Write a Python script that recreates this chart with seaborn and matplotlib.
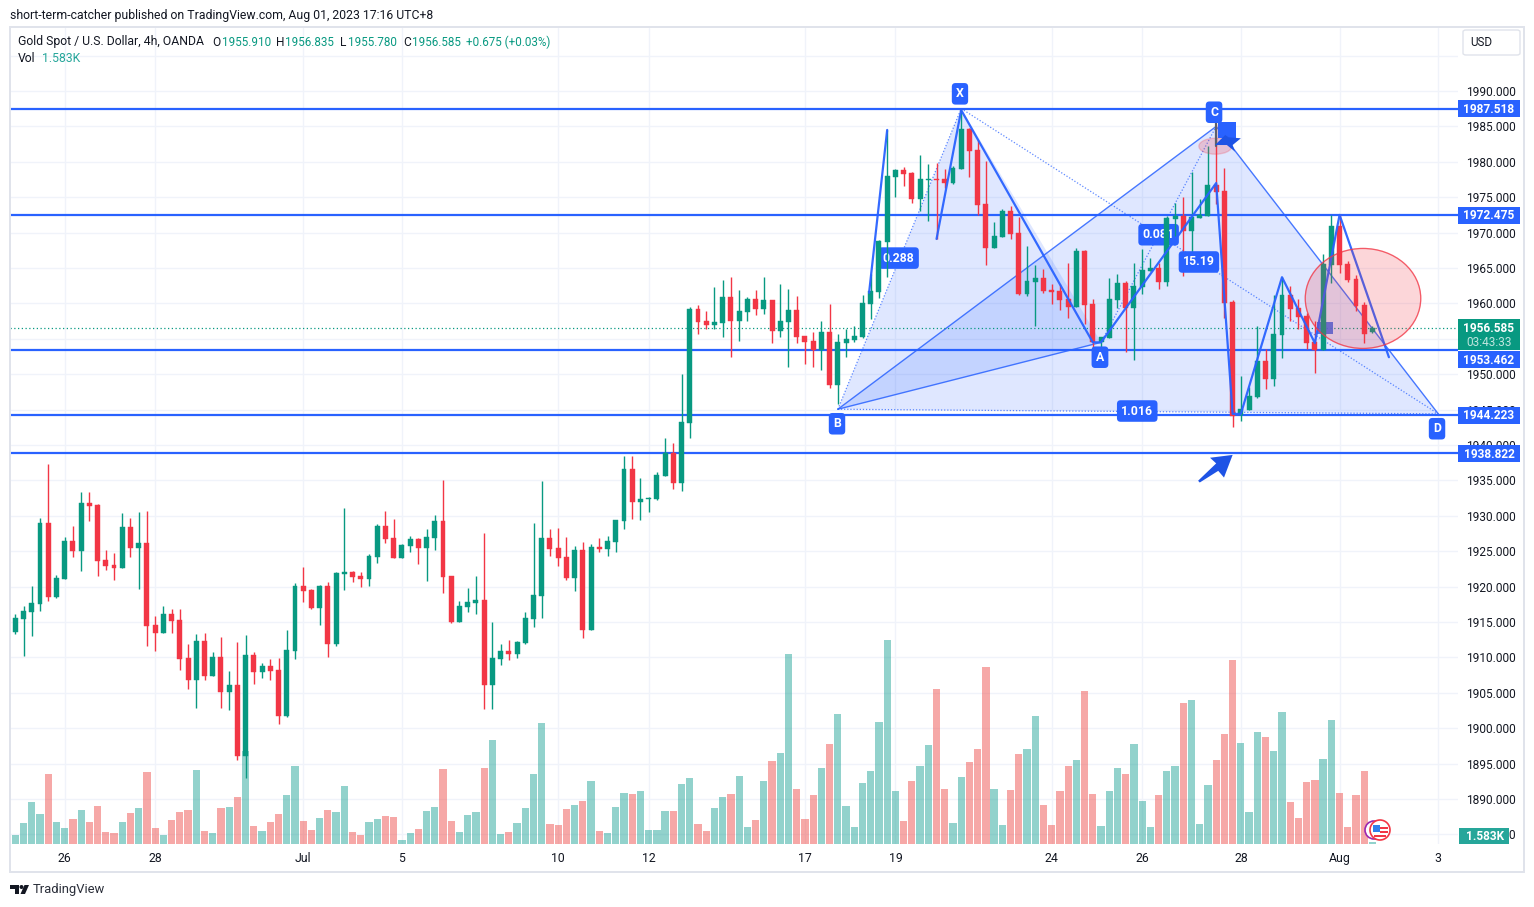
import numpy as np
import pandas as pd
import matplotlib
matplotlib.use("Agg")
import matplotlib.pyplot as plt
import seaborn as sns
from matplotlib.patches import Ellipse, Polygon, Rectangle, FancyBboxPatch

# ---- candles, 4h, oldest first ---------------------------------------------
opens = [
    1913.59, 1915.43, 1916.42, 1917.55, 1928.99, 1918.53, 1921.08, 1926.44, 1925.03, 1931.81,
    1931.53, 1923.76, 1923.05, 1922.63, 1928.42, 1925.46, 1926.16, 1914.58, 1913.45, 1916.13,
    1915.29, 1909.92, 1906.81, 1912.32, 1907.38, 1910.06, 1905.12, 1906.11, 1896.08, 1910.34,
    1907.94, 1908.79, 1908.22, 1901.73, 1910.91, 1920.09, 1919.52, 1916.98, 1920.09, 1911.90,
    1921.78, 1922.07, 1921.50, 1921.08, 1924.18, 1928.56, 1926.87, 1924.04, 1925.74, 1926.73,
    1925.46, 1926.87, 1929.27, 1921.50, 1915.00, 1917.12, 1917.69, 1918.11, 1906.11, 1909.78,
    1910.91, 1910.48, 1912.04, 1915.43, 1918.68, 1926.87, 1925.46, 1924.18, 1921.22, 1925.17,
    1913.87, 1925.60, 1925.31, 1926.30, 1929.27, 1936.61, 1931.95, 1932.38, 1932.38, 1935.63,
    1938.87, 1934.64, 1943.10, 1959.20, 1957.51, 1956.95, 1957.23, 1960.90, 1957.51, 1958.78,
    1960.62, 1959.20, 1960.48, 1956.10, 1957.37, 1959.06, 1955.39, 1954.68, 1953.41, 1955.96,
    1948.47, 1954.40, 1954.83, 1955.25, 1959.91, 1961.61, 1968.67, 1977.85, 1978.84, 1978.41,
    1974.74, 1977.43, 1977.57, 1977.57, 1977.00, 1978.98, 1984.63, 1981.66, 1974.04, 1967.82,
    1969.38, 1973.05, 1969.94, 1961.32, 1963.02, 1963.58, 1961.89, 1961.75, 1960.62, 1959.49,
    1967.40, 1959.91, 1954.54, 1955.11, 1960.48, 1962.88, 1959.35, 1962.31, 1964.57, 1965.00,
    1963.02, 1971.92, 1972.34, 1970.22, 1972.06, 1972.34, 1976.72, 1975.87, 1960.19, 1944.24,
    1944.94, 1946.78, 1951.87, 1949.32, 1955.54, 1961.19, 1959.35, 1958.22, 1954.55, 1953.42,
    1965.42, 1970.93, 1965.57, 1963.45, 1959.77, 1955.91,
]
closes = [
    1915.57, 1916.56, 1917.69, 1928.99, 1918.53, 1921.22, 1926.44, 1925.03, 1931.81, 1931.39,
    1923.62, 1922.91, 1922.63, 1928.42, 1925.46, 1926.16, 1914.44, 1913.45, 1916.13, 1915.14,
    1909.78, 1906.81, 1912.32, 1907.38, 1910.06, 1905.12, 1906.11, 1896.08, 1910.34, 1907.94,
    1908.79, 1908.08, 1901.73, 1911.05, 1920.09, 1919.38, 1916.98, 1920.09, 1911.90, 1921.92,
    1922.07, 1921.36, 1921.08, 1924.33, 1928.56, 1926.73, 1924.04, 1925.88, 1926.73, 1925.46,
    1927.01, 1929.27, 1921.36, 1915.00, 1917.26, 1917.83, 1918.11, 1906.11, 1909.92, 1910.91,
    1910.48, 1912.18, 1915.57, 1918.82, 1926.87, 1925.31, 1924.04, 1921.22, 1925.17, 1913.87,
    1925.60, 1925.31, 1926.44, 1929.41, 1936.61, 1931.95, 1932.38, 1932.52, 1935.77, 1938.87,
    1934.64, 1943.25, 1959.20, 1957.37, 1956.95, 1957.37, 1960.90, 1957.51, 1958.92, 1960.62,
    1959.20, 1960.48, 1956.10, 1957.51, 1959.06, 1955.25, 1954.54, 1953.41, 1955.96, 1948.47,
    1954.54, 1954.97, 1955.39, 1960.05, 1961.75, 1968.81, 1977.99, 1978.84, 1978.27, 1974.74,
    1977.57, 1977.57, 1977.43, 1977.00, 1979.12, 1984.63, 1981.52, 1973.89, 1967.82, 1969.52,
    1973.05, 1969.80, 1961.32, 1963.16, 1963.58, 1961.75, 1961.60, 1960.48, 1959.49, 1967.40,
    1959.77, 1954.54, 1955.25, 1960.62, 1962.88, 1959.35, 1962.46, 1964.71, 1965.00, 1963.02,
    1972.06, 1972.34, 1970.22, 1972.20, 1972.48, 1976.72, 1975.73, 1960.05, 1944.09, 1945.09,
    1946.92, 1951.87, 1949.32, 1955.68, 1961.19, 1959.21, 1958.08, 1954.41, 1953.42, 1965.57,
    1970.93, 1965.42, 1963.30, 1959.63, 1955.68, 1956.585,
]
highs = [
    1916.13, 1917.26, 1920.09, 1929.69, 1937.32, 1921.64, 1927.00, 1928.56, 1933.37, 1933.37,
    1931.67, 1925.17, 1924.75, 1930.40, 1929.69, 1930.54, 1930.68, 1915.85, 1917.26, 1916.84,
    1916.84, 1911.90, 1913.31, 1913.45, 1910.77, 1912.88, 1908.08, 1912.18, 1913.17, 1910.77,
    1909.21, 1909.78, 1909.92, 1913.87, 1920.51, 1922.77, 1919.67, 1920.23, 1920.65, 1922.07,
    1931.10, 1922.20, 1922.07, 1924.61, 1928.85, 1930.68, 1929.55, 1926.00, 1927.15, 1926.87,
    1928.14, 1930.12, 1935.06, 1921.50, 1917.97, 1919.81, 1921.50, 1927.57, 1915.00, 1911.90,
    1912.46, 1912.32, 1916.42, 1928.99, 1934.92, 1928.14, 1928.28, 1927.01, 1925.74, 1926.30,
    1926.02, 1926.87, 1927.15, 1929.41, 1938.45, 1938.45, 1935.34, 1932.66, 1936.19, 1941.00,
    1940.29, 1950.03, 1959.50, 1959.77, 1958.92, 1962.31, 1963.30, 1963.72, 1961.89, 1960.90,
    1961.89, 1963.72, 1960.48, 1962.74, 1962.03, 1961.04, 1955.39, 1955.96, 1957.51, 1959.91,
    1955.67, 1956.38, 1956.80, 1961.18, 1964.15, 1969.00, 1984.49, 1978.98, 1979.26, 1978.56,
    1980.96, 1979.69, 1979.83, 1978.98, 1979.40, 1987.31, 1984.77, 1983.07, 1980.11, 1971.49,
    1973.33, 1973.75, 1972.20, 1968.10, 1965.42, 1964.86, 1962.74, 1962.74, 1965.70, 1967.82,
    1967.54, 1960.62, 1955.25, 1963.58, 1964.15, 1963.16, 1965.70, 1967.70, 1966.41, 1965.70,
    1972.34, 1974.18, 1975.02, 1978.56, 1974.74, 1982.23, 1985.40, 1979.12, 1960.48, 1949.75,
    1948.20, 1956.81, 1953.56, 1961.19, 1963.73, 1962.46, 1960.62, 1958.64, 1957.51, 1966.98,
    1972.49, 1972.49, 1966.00, 1964.01, 1960.20, 1956.835,
]
lows = [
    1913.31, 1910.20, 1913.03, 1916.56, 1917.97, 1918.39, 1921.08, 1924.18, 1922.21, 1929.27,
    1921.50, 1922.35, 1920.94, 1922.63, 1924.18, 1919.67, 1911.61, 1910.91, 1913.45, 1913.45,
    1908.22, 1905.54, 1902.86, 1906.81, 1907.38, 1902.86, 1902.57, 1895.51, 1893.00, 1906.25,
    1907.09, 1906.81, 1900.60, 1901.59, 1909.78, 1917.83, 1916.84, 1914.58, 1910.06, 1911.61,
    1919.52, 1920.65, 1919.95, 1920.09, 1923.34, 1926.16, 1924.04, 1924.04, 1924.89, 1923.20,
    1920.79, 1925.17, 1919.10, 1914.86, 1915.00, 1916.42, 1916.13, 1902.72, 1902.72, 1908.93,
    1909.64, 1909.92, 1911.90, 1914.30, 1915.57, 1924.33, 1922.91, 1920.94, 1919.38, 1912.74,
    1913.87, 1924.89, 1924.33, 1924.89, 1928.14, 1929.55, 1929.41, 1930.54, 1932.24, 1935.63,
    1933.79, 1933.51, 1941.00, 1955.67, 1956.38, 1956.38, 1955.25, 1952.43, 1954.69, 1957.51,
    1958.36, 1958.50, 1954.40, 1955.25, 1951.01, 1954.40, 1951.44, 1951.01, 1950.59, 1948.05,
    1945.79, 1952.43, 1954.54, 1955.11, 1957.79, 1960.76, 1963.73, 1975.02, 1976.58, 1974.18,
    1973.05, 1971.63, 1969.09, 1976.30, 1976.86, 1978.98, 1977.85, 1972.48, 1965.42, 1967.82,
    1969.38, 1969.09, 1961.18, 1961.04, 1956.80, 1961.46, 1959.91, 1959.06, 1957.93, 1959.49,
    1957.09, 1953.41, 1953.41, 1955.11, 1959.35, 1953.13, 1952.00, 1961.32, 1964.57, 1962.03,
    1962.46, 1969.52, 1963.87, 1967.25, 1972.06, 1972.34, 1974.04, 1957.93, 1942.54, 1943.39,
    1944.94, 1946.64, 1947.91, 1948.33, 1952.29, 1957.51, 1956.38, 1953.56, 1950.17, 1953.42,
    1962.88, 1964.29, 1963.02, 1958.93, 1954.41, 1955.78,
]
# thousands
volumes = [
    9, 21, 42, 30, 70, 22, 16, 25, 34, 22,
    38, 12, 11, 22, 31, 36, 72, 16, 9, 24,
    32, 34, 74, 13, 11, 36, 37, 47, 93, 18,
    13, 22, 30, 49, 78, 23, 14, 26, 34, 32,
    58, 12, 9, 22, 25, 28, 27, 4, 11, 15,
    33, 37, 75, 23, 12, 29, 32, 76, 104, 10,
    12, 21, 36, 70, 121, 20, 19, 35, 39, 43,
    63, 13, 11, 37, 51, 50, 53, 14, 14, 33,
    33, 60, 66, 20, 13, 36, 47, 50, 68, 17,
    24, 63, 83, 91, 190, 55, 25, 49, 76, 100,
    130, 38, 17, 61, 73, 122, 204, 53, 23, 63,
    78, 99, 155, 55, 21, 67, 82, 95, 177, 55,
    19, 54, 90, 95, 128, 39, 19, 53, 78, 84,
    153, 50, 18, 53, 76, 70, 100, 43, 17, 49,
    73, 78, 141, 144, 20, 59, 84, 110, 184, 101,
    32, 112, 107, 93, 132, 42, 26, 62, 64, 85,
    124, 51, 17, 49, 73, 1.583,
]

date_ticks = [6, 17, 35, 47, 66, 77, 96, 107, 126, 137, 149, 161, 173]
date_labels = ["26", "28", "Jul", "5", "10", "12", "17", "19", "24", "26", "28", "Aug", "3"]
price_ticks = list(range(1885, 2000, 5))
level_prices = [1987.518, 1972.475, 1953.462, 1944.223, 1938.822]
last_price = 1956.585

# harmonic pattern points (bar, price)
pt_x = (115, 1987.52)
pt_a = (132, 1954.5)
pt_b = (100, 1945.05)
pt_c = (146, 1985.0)
pt_d = (173, 1944.4)
# hand drawn trend lines
zig_1 = [(103.8, 1961.5), (106, 1984.5)]
zig_2 = [(112, 1969.1), (115, 1987.3), (131, 1954.5), (132, 1954.5), (146, 1977.0), (148, 1944.4),
         (149, 1944.4), (154, 1963.7), (158, 1954.4), (161, 1972.5), (167, 1952.4)]
arrow_low = [(148.0, 1938.6), (145.25, 1938.2), (146.0, 1937.4), (143.8, 1934.95), (144.0, 1934.7),
             (146.25, 1936.35), (146.95, 1935.4)]
arrow_high = [(145.86, 1982.37), (147.1, 1983.79), (147.5, 1983.46), (149.0, 1983.32), (148.0, 1982.37),
              (148.3, 1981.43), (147.3, 1982.37)]

UP, DOWN = "#089981", "#f23645"
VOL_UP, VOL_DOWN = "#26a69a", "#ef5350"
BLUE = "#2962ff"
ARROW = "#1e53e5"
INK = "#131722"
GRID = "#f0f3fa"
BORDER = "#e0e3eb"

W, H = 1534, 907
PANE = (10, 28, 1458, 844)  # left, top, right, bottom in px
PX_PER_USD = 7.08
price_low = 1990 - (PANE[3] - 91) / PX_PER_USD
price_high = 1990 + (91 - PANE[1]) / PX_PER_USD


def fx(px):
    return px / W


def fy(py):
    return 1 - py / H


sns.set_theme(style="white")
plt.rcParams["font.family"] = ["Roboto", "DejaVu Sans"]

fig = plt.figure(figsize=(W / 100, H / 100), dpi=100, facecolor="white")
ax_vol = fig.add_axes([fx(PANE[0]), fy(PANE[3]), fx(PANE[2] - PANE[0]), (PANE[3] - PANE[1]) / H])

bars = np.arange(len(opens))
is_up = np.array(closes) >= np.array(opens)
vol_df = pd.DataFrame({"bar": bars, "volume": volumes, "side": np.where(is_up, "up", "down")})

sns.barplot(data=vol_df, x="bar", y="volume", hue="side", palette={"up": VOL_UP, "down": VOL_DOWN},
            native_scale=True, dodge=False, width=0.88, saturation=1, alpha=0.5, linewidth=0,
            errorbar=None, legend=False, ax=ax_vol)
ax_vol.set_xlim(-0.648, 175.4)
ax_vol.set_ylim(0, PANE[3] - PANE[1])
ax_vol.set(xlabel="", ylabel="")
ax_vol.set_xticks(date_ticks, date_labels)
# grid lives on the volume axes so it stays under the bars
ax_vol.set_yticks([(t - price_low) * PX_PER_USD for t in price_ticks], [""] * len(price_ticks))
ax_vol.tick_params(axis="both", length=0)
ax_vol.tick_params(axis="x", pad=5.5, labelsize=8.8, labelcolor=INK)
ax_vol.grid(axis="both", color=GRID, lw=1)
ax_vol.set_axisbelow(True)
sns.despine(ax=ax_vol, left=True, bottom=True)

ax = ax_vol.twinx()
ax.set_ylim(price_low, price_high)
ax.set_yticks(price_ticks)
ax.set_yticklabels(["" if t == 1995 else f"{t}.000" for t in price_ticks])
ax.tick_params(axis="y", length=0, pad=6, labelsize=8.6, labelcolor=INK)
ax.grid(False)
sns.despine(ax=ax, left=True, bottom=True, right=True, top=True)

# ---- pattern fills, drawn under the candles --------------------------------
ax.add_patch(Polygon([pt_x, pt_a, pt_b], closed=True, fc=BLUE, alpha=0.15, lw=0, zorder=1))
ax.add_patch(Polygon([pt_b, pt_c, pt_d], closed=True, fc=BLUE, alpha=0.15, lw=0, zorder=1))
for p, q in [(pt_a, pt_b), (pt_b, pt_c), (pt_c, pt_d)]:
    ax.plot(*zip(p, q), color=BLUE, lw=1.0, alpha=0.85, zorder=1.5)
for p, q in [(pt_b, pt_x), (pt_x, pt_d), (pt_a, pt_c), (pt_b, pt_d)]:
    ax.plot(*zip(p, q), color=BLUE, lw=0.9, ls=(0, (1, 1.5)), alpha=0.75, zorder=1.5)

ax.add_patch(Rectangle((158.3, 1955.7), 1.9, 1.7, fc="#3d6be8", ec="none", alpha=0.9, zorder=1.8))

for price in level_prices:
    ax.axhline(price, color=BLUE, lw=1.6, zorder=1.6)
ax.axhline(last_price, color=UP, lw=0.9, ls=(0, (1, 2)), zorder=1.6)


def tag_box(text, bar, price, zorder):
    ax.text(bar, price, text, color="white", fontsize=8.8, fontweight="bold", ha="center", va="center",
            zorder=zorder, bbox=dict(boxstyle="round,pad=0.35,rounding_size=0.3", fc=BLUE, ec="none"))


tag_box("0.288", 107.4, 1966.4, 2)
tag_box("0.081", 139.0, 1969.7, 2)

# ---- candles ---------------------------------------------------------------
candle_colors = np.where(is_up, UP, DOWN)
ax.vlines(bars, lows, highs, colors=candle_colors, lw=1.0, zorder=3)
ax.bar(bars, np.array(closes) - np.array(opens), bottom=opens, width=0.6, color=candle_colors,
       edgecolor=candle_colors, linewidth=0.3, zorder=3.1)

# ---- drawings above the candles --------------------------------------------
for line in (zig_1, zig_2):
    ax.plot(*zip(*line), color=BLUE, lw=1.6, alpha=0.95, solid_capstyle="round", zorder=4)

for text, bar, price in [("X", 114.85, 1989.6), ("A", 131.87, 1952.4), ("B", 99.9, 1943.0),
                         ("C", 145.74, 1987.0), ("D", 172.85, 1942.3), ("15.19", 143.9, 1965.85),
                         ("1.016", 136.4, 1944.8)]:
    tag_box(text, bar, price, 5)

ax.add_patch(Ellipse((163.85, 1960.7), 115.5 / 8.225, 100 / 7.08, fc=DOWN, ec=DOWN, alpha=0.2, zorder=4))
ax.add_patch(Ellipse((163.85, 1960.7), 115.5 / 8.225, 100 / 7.08, fc="none", ec=DOWN, lw=0.9, alpha=0.75, zorder=4))
ax.add_patch(Ellipse((145.9, 1982.2), 33 / 8.225, 16 / 7.08, fc=DOWN, ec=DOWN, alpha=0.22, zorder=4))
ax.plot([146, 146], [1982.3, 1985.6], color="#5d606b", lw=1.6, zorder=4.2)
ax.add_patch(Rectangle((146.2, 1983.4), 2.2, 2.2, fc=BLUE, ec="none", zorder=4.5))
ax.add_patch(Polygon(arrow_high, closed=True, fc=ARROW, ec="none", zorder=4.6))
ax.add_patch(Polygon(arrow_low, closed=True, fc=ARROW, ec="none", zorder=4.6))

# ---- price axis tags -------------------------------------------------------
tag_w = 62 / (PANE[2] - PANE[0])
trans = ax.get_yaxis_transform()
for price in level_prices:
    # the 1953 tag is pushed down by the last price tag above it
    y = 1952.05 if price == 1953.462 else price
    ax.add_patch(Rectangle((1, y - 1.2), tag_w, 2.4, transform=trans, fc=BLUE, ec="none", clip_on=False, zorder=6))
    ax.text(1 + tag_w / 2, y - 0.12, f"{price:.3f}", transform=trans, color="white", fontsize=8.6, fontweight="bold",
            ha="center", va="center", zorder=7, clip_on=False)
ax.add_patch(Rectangle((1, last_price - 3.1), tag_w, 4.25, transform=trans, fc=UP, ec="none", clip_on=False, zorder=6))
ax.text(1 + tag_w / 2, last_price - 0.1, f"{last_price:.3f}", transform=trans, color="white", fontsize=8.6, fontweight="bold",
        ha="center", va="center", zorder=7, clip_on=False)
ax.text(1 + tag_w / 2, last_price - 2.1, "03:43:33", transform=trans, color="#bfe5de", fontsize=8.6,
        ha="center", va="center", zorder=7, clip_on=False)

# ---- page chrome -----------------------------------------------------------
fig.add_artist(Rectangle((fx(10), fy(872)), fx(1514), 845 / H, transform=fig.transFigure, fc="none", ec=BORDER, lw=1.4))
fig.add_artist(Rectangle((fx(1459), fy(844)), fx(50), 16 / H, transform=fig.transFigure, fc=VOL_UP, ec="none", zorder=8))
fig.text(fx(1485), fy(836), "1.583K", color="white", fontsize=8.6, fontweight="bold", ha="center", va="center", zorder=9)
fig.add_artist(FancyBboxPatch((fx(1463), fy(55)), fx(57), 25 / H, transform=fig.transFigure, boxstyle="round,pad=0,rounding_size=0.002",
                              fc="white", ec=BORDER, lw=1))
fig.text(fx(1481), fy(43), "USD", color=INK, fontsize=8.4, ha="center", va="center")

fig.text(fx(10), fy(15), "short-term-catcher published on TradingView.com, Aug 01, 2023 17:16 UTC+8",
         color=INK, fontsize=8.8, va="center")
fig.text(fx(18), fy(42), "Gold Spot / U.S. Dollar, 4h, OANDA", color=INK, fontsize=8.8, va="center")
for label, px in [("O", 212), ("H", 276), ("L", 340), ("C", 403)]:
    fig.text(fx(px), fy(42), label, color=INK, fontsize=8.6, va="center")
for value, px in [("1955.910", 222), ("1956.835", 285), ("1955.780", 348), ("1956.585", 412), ("+0.675 (+0.03%)", 466)]:
    fig.text(fx(px), fy(42), value, color=UP, fontsize=8.4, va="center")
fig.text(fx(18), fy(59), "Vol", color=INK, fontsize=8.8, va="center")
fig.text(fx(42), fy(59), "1.583K", color=VOL_UP, fontsize=8.8, va="center")

# event icons
for cx, ec, r in [(1374, "#9c27b0", 9), (1380, DOWN, 10)]:
    fig.add_artist(Ellipse((fx(cx), fy(830)), 2 * r / W, 2 * r / H, transform=fig.transFigure, fc="white", ec=ec, lw=1.2, zorder=8))
fig.add_artist(Rectangle((fx(1373), fy(832)), fx(7), 7 / H, transform=fig.transFigure, fc="#2f80ed", ec="none", zorder=9))
for py in (829, 833):
    fig.add_artist(Rectangle((fx(1380), fy(py)), fx(8), 2 / H, transform=fig.transFigure, fc=DOWN, ec="none", zorder=9))
fig.add_artist(Rectangle((fx(1374), fy(837)), fx(12), 2 / H, transform=fig.transFigure, fc=DOWN, ec="none", zorder=9))

# TradingView logo
logo = [
    [(10, 885), (19, 885), (19, 894), (14.5, 894), (14.5, 888.5), (10, 888.5)],
    [(24.5, 885), (29, 885), (25, 894), (20.5, 894)],
]
for shape in logo:
    fig.add_artist(Polygon([(fx(a), fy(b)) for a, b in shape], closed=True, transform=fig.transFigure, fc=INK, ec="none"))
fig.add_artist(Ellipse((fx(21.5), fy(887)), 4 / W, 4 / H, transform=fig.transFigure, fc=INK, ec="none"))
fig.text(fx(33), fy(889), "TradingView", color="#2a2e39", fontsize=9.4, va="center")

fig.savefig("out.png", dpi=100)
